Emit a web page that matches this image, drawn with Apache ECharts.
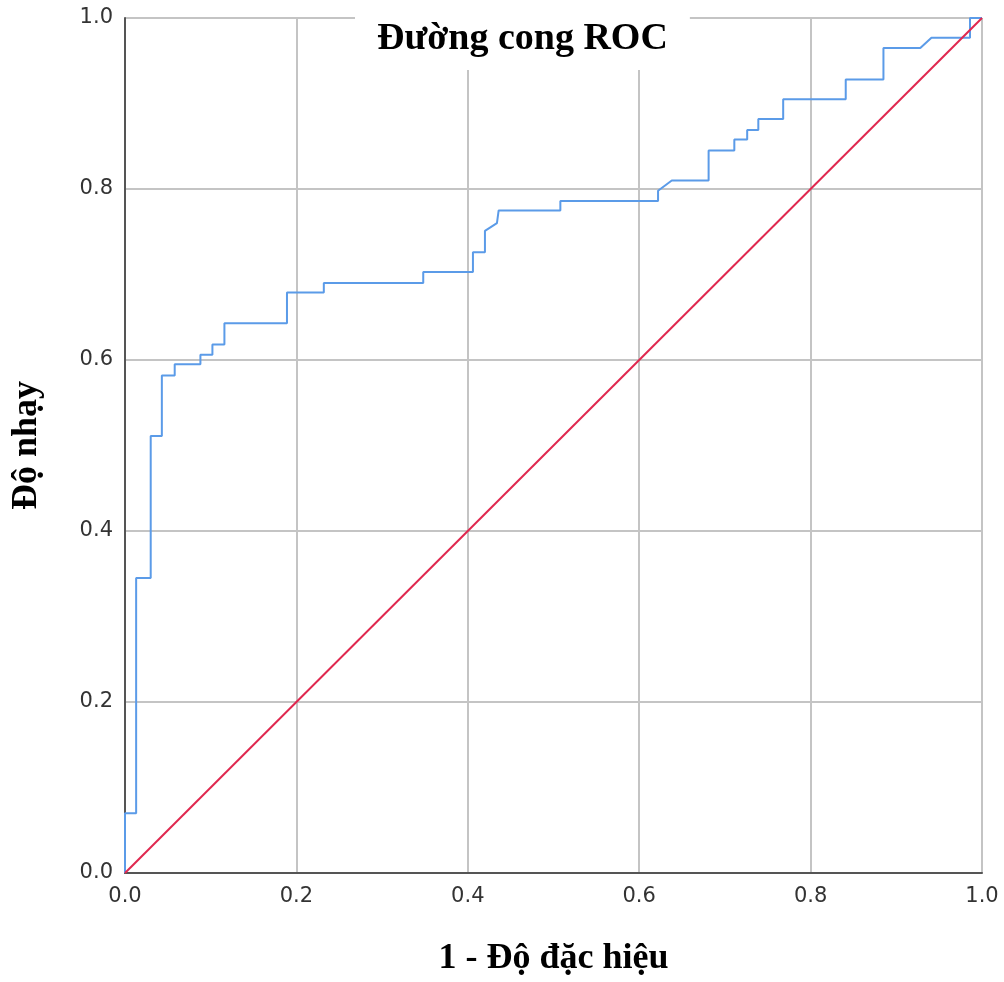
<!DOCTYPE html>
<html>
<head>
<meta charset="utf-8">
<script src="https://cdn.jsdelivr.net/npm/echarts@6/dist/echarts.min.js"></script>
<style>
	html, body { margin: 0; padding: 0; background: #fff; }
	#chart { width: 1004px; height: 982px; }
</style>
</head>
<body>
<div id="chart"></div>
<script>
// điểm của đường ROC (1 - độ đặc hiệu, độ nhạy)
const rocX = [0, 0, 0.013, 0.013, 0.030, 0.030, 0.043, 0.043, 0.058, 0.058, 0.088, 0.088, 0.102, 0.102, 0.116, 0.116,
	0.189, 0.189, 0.232, 0.232, 0.348, 0.348, 0.406, 0.406, 0.420, 0.420, 0.434, 0.436, 0.508, 0.508, 0.622, 0.622, 0.638,
	0.681, 0.681, 0.711, 0.711, 0.726, 0.726, 0.739, 0.739, 0.768, 0.768, 0.841, 0.841, 0.885, 0.885, 0.928, 0.941,
	0.986, 0.986, 1.0];
const rocY = [0, 0.070, 0.070, 0.345, 0.345, 0.511, 0.511, 0.582, 0.582, 0.595, 0.595, 0.606, 0.606, 0.618, 0.618, 0.643,
	0.643, 0.679, 0.679, 0.690, 0.690, 0.703, 0.703, 0.726, 0.726, 0.751, 0.760, 0.775, 0.775, 0.786, 0.786, 0.798, 0.810,
	0.810, 0.845, 0.845, 0.858, 0.858, 0.869, 0.869, 0.882, 0.882, 0.905, 0.905, 0.928, 0.928, 0.965, 0.965, 0.977,
	0.977, 1.0, 1.0];
// đường tham chiếu
const refX = [0, 1];
const refY = [0, 1];
const tickLabels = ['0.0', '0.2', '0.4', '0.6', '0.8', '1.0'];

const zip = (xs, ys) => xs.map((x, i) => [x, ys[i]]);

const labelStyle = {
	color: '#333',
	fontFamily: 'DejaVu Sans',
	fontSize: 21,
	formatter: (v) => tickLabels[Math.round(v * 5)]
};

const nameStyle = {
	fontFamily: 'Liberation Serif',
	fontWeight: 'bold',
	fontSize: 36,
	color: '#000'
};

const chart = echarts.init(document.getElementById('chart'));
const option = {
	animation: false,
	backgroundColor: '#fff',
	title: {
		text: 'Đường cong ROC',
		left: 355,
		top: 8,
		backgroundColor: '#fff',
		padding: [12, 22, 12, 22],
		textStyle: {
			fontFamily: 'Liberation Serif',
			fontWeight: 'bold',
			fontSize: 38,
			color: '#000'
		}
	},
	grid: {
		left: 125,
		right: 22,
		top: 18,
		bottom: 96,
		containLabel: false
	},
	xAxis: {
		type: 'value',
		min: 0,
		max: 1,
		interval: 0.2,
		name: '1 - Độ đặc hiệu',
		nameLocation: 'middle',
		nameGap: 68,
		nameTextStyle: nameStyle,
		axisLine: { show: true, lineStyle: { color: '#555', width: 2 } },
		axisTick: { show: false },
		axisLabel: Object.assign({ margin: 13 }, labelStyle),
		splitLine: { show: true, lineStyle: { color: '#c4c4c4', width: 2 } }
	},
	yAxis: {
		type: 'value',
		min: 0,
		max: 1,
		interval: 0.2,
		name: 'Độ nhạy',
		nameLocation: 'middle',
		nameGap: 80,
		nameRotate: 90,
		nameTextStyle: nameStyle,
		axisLine: { show: true, lineStyle: { color: '#555', width: 2 } },
		axisTick: { show: false },
		axisLabel: Object.assign({ margin: 12 }, labelStyle),
		splitLine: { show: true, lineStyle: { color: '#c4c4c4', width: 2 } }
	},
	series: [
		{
			type: 'line',
			data: zip(refX, refY),
			showSymbol: false,
			lineStyle: { color: '#e0284f', width: 2 },
			z: 3
		},
		{
			type: 'line',
			data: zip(rocX, rocY),
			showSymbol: false,
			lineStyle: { color: '#5b9be8', width: 2 },
			z: 2
		}
	]
};
chart.setOption(option);
</script>
</body>
</html>
